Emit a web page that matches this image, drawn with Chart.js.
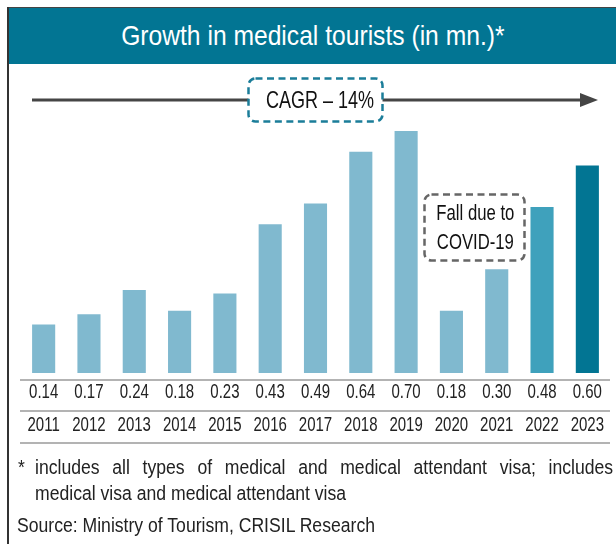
<!DOCTYPE html>
<html>
<head>
<meta charset="utf-8">
<script src="https://cdn.jsdelivr.net/npm/chart.js@4.4.0/dist/chart.umd.min.js"></script>
<style>
  body { margin: 0; width: 616px; height: 544px; position: relative; overflow: hidden; background: #fff;
         font-family: "Liberation Sans", Arial, sans-serif; color: #1a1a1a; }
  #frameL { position: absolute; left: 7px; top: 7px; width: 2px; height: 537px; background: #333; }
  #title { position: absolute; left: 9px; top: 7px; width: 607px; height: 56px; background: #027593;
           border-top: 1px solid #444; color: #fff; font-size: 28px; text-align: center; line-height: 56px; }
  #wrap { position: absolute; left: 0; top: 0; width: 616px; height: 460px; }
  #deco { position: absolute; left: 0; top: 0; }
  .lbl { position: absolute; text-align: center; white-space: nowrap; color: #111; }
  .sx { display: inline-block; transform-origin: center; }
  .note { position: absolute; font-size: 20px; white-space: nowrap; line-height: 22px; color: #222;
          transform-origin: left center; transform: scaleX(0.88); }
</style>
</head>
<body>
<div id="title"><span class="sx" style="transform:scaleX(0.88)">Growth in medical tourists (in mn.)*</span></div>
<div id="wrap"><canvas id="chart"></canvas></div>
<svg id="deco" width="616" height="300">
  <line x1="32" y1="100" x2="582" y2="100" stroke="#454545" stroke-width="3"/>
  <polygon points="580,93 598,100 580,107" fill="#454545"/>
  <rect x="248.5" y="78.5" width="134" height="43" rx="7" fill="#fff" stroke="#1b7d99" stroke-width="2.5" stroke-dasharray="7 4.5"/>
  <rect x="424.5" y="194.5" width="100" height="66" rx="7" fill="#fff" stroke="#666" stroke-width="2.5" stroke-dasharray="7 4.5"/>
</svg>
<div class="lbl" style="left:248px;top:86px;width:135px;font-size:24px;line-height:28px;"><span class="sx" style="transform:scaleX(0.75)">CAGR – 14%</span></div>
<div class="lbl" style="left:424px;top:198px;width:101px;font-size:22px;line-height:29px;"><span class="sx" style="transform:scaleX(0.76)">Fall due to<br>COVID-19</span></div>
<div id="frameL"></div>
<div class="note" style="left:18px;top:456px;">*</div>
<div class="note" style="left:35px;top:456px;width:657px;white-space:normal;text-align:justify;text-align-last:justify;">includes all types of medical and medical attendant visa; includes</div>
<div class="note" style="left:35px;top:482px;">medical visa and medical attendant visa</div>
<div class="note" style="left:17px;top:514px;">Source: Ministry of Tourism, CRISIL Research</div>
<script>
const years = ['2011', '2012', '2013', '2014', '2015', '2016', '2017', '2018', '2019', '2020', '2021', '2022', '2023'];
const tourists = [0.14, 0.17, 0.24, 0.18, 0.23, 0.43, 0.49, 0.64, 0.70, 0.18, 0.30, 0.48, 0.60];
const barColors = ['#80b9cf', '#80b9cf', '#80b9cf', '#80b9cf', '#80b9cf', '#80b9cf', '#80b9cf',
                   '#80b9cf', '#80b9cf', '#80b9cf', '#80b9cf', '#3fa1bc', '#027593'];

// table rules under the bars
const tableLines = {
  id: 'tableLines',
  afterDraw(chart) {
    const { ctx, chartArea } = chart;
    const xs = chart.scales.x;
    ctx.save();
    ctx.strokeStyle = '#9a9a9a';
    ctx.lineWidth = 1.5;
    [7, 38, 70].forEach(off => {
      const y = chartArea.bottom + off;
      ctx.beginPath();
      ctx.moveTo(xs.left - 1, y);
      ctx.lineTo(xs.right, y);
      ctx.stroke();
    });
    ctx.restore();
  }
};

// squeeze canvas text horizontally to get a condensed face
const squeeze = 0.75;
const narrowText = {
  id: 'narrowText',
  beforeDraw(chart) {
    const fill = CanvasRenderingContext2D.prototype.fillText;
    chart.ctx.fillText = function (text, x, y, maxW) {
      this.save();
      this.scale(squeeze, 1);
      fill.call(this, text, x / squeeze, y, maxW);
      this.restore();
    };
  },
  afterDraw(chart) {
    delete chart.ctx.fillText;
  }
};

new Chart(document.getElementById('chart'), {
  type: 'bar',
  data: {
    labels: years,
    datasets: [{
      data: tourists,
      backgroundColor: barColors,
      barPercentage: 0.51,
      categoryPercentage: 1
    }]
  },
  options: {
    responsive: true,
    maintainAspectRatio: false,
    animation: false,
    layout: { padding: { left: 21, right: 6, top: 131, bottom: 17 } },
    plugins: { legend: { display: false }, tooltip: { enabled: false } },
    scales: {
      x: {
        grid: { display: false, drawTicks: false },
        border: { display: false },
        afterFit(scale) { scale.height = 70; },
        ticks: {
          padding: 3,
          color: '#222',
          font: { family: '"Liberation Sans", Arial, sans-serif', size: 20, lineHeight: '33px' },
          maxRotation: 0,
          autoSkip: false,
          callback: (v, i) => [tourists[i].toFixed(2), years[i]]
        }
      },
      y: { display: false, min: 0, max: 0.7 }
    }
  },
  plugins: [tableLines, narrowText]
});
</script>
</body>
</html>
